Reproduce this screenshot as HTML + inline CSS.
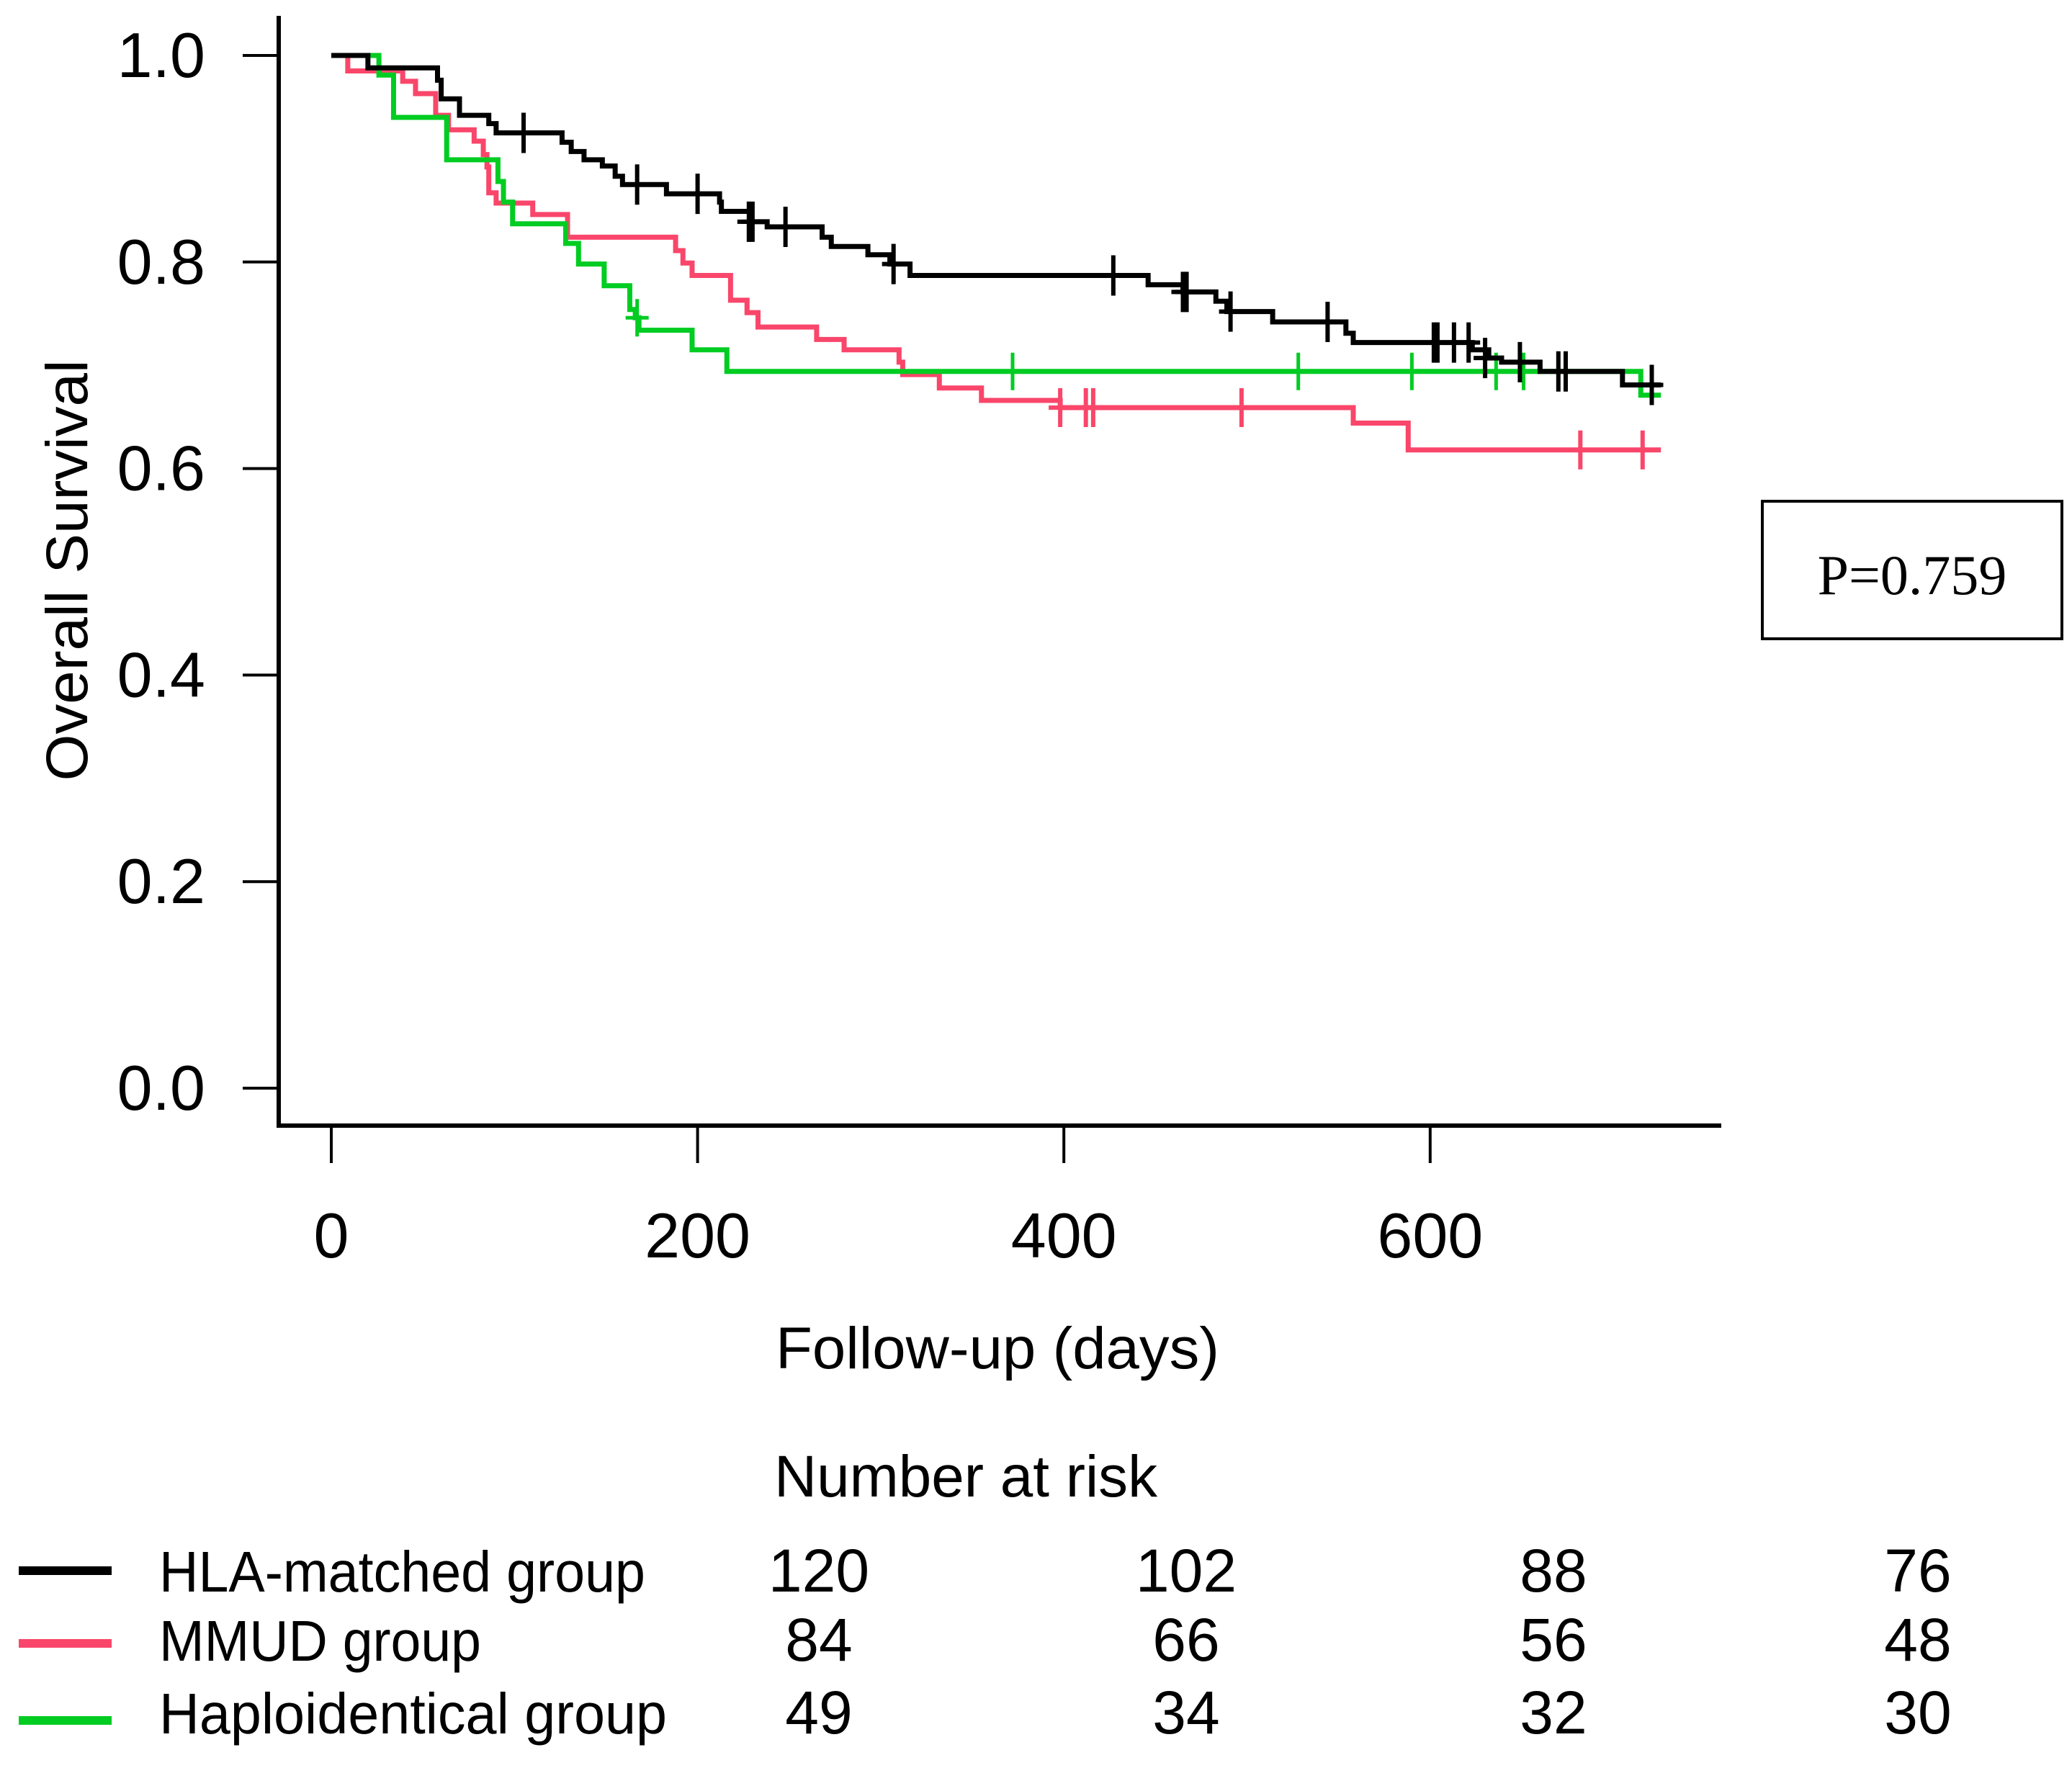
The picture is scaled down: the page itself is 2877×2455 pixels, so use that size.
<!DOCTYPE html>
<html><head><meta charset="utf-8"><style>
html,body{margin:0;padding:0;background:#fff}
svg{display:block}
text{font-family:"Liberation Sans",Arial,sans-serif;fill:#000}
</style></head><body>
<svg id="chart" width="2877" height="2455" viewBox="0 0 2877 2455" xmlns="http://www.w3.org/2000/svg">
<g id="axes"></g>
<g id="curves"></g>
<text transform="translate(121,792) rotate(-90)" text-anchor="middle" font-size="82" textLength="585" lengthAdjust="spacingAndGlyphs">Overall Survival</text>
<text x="1077" y="1900" font-size="82" textLength="616" lengthAdjust="spacingAndGlyphs">Follow-up (days)</text>
<text x="1075" y="2078" font-size="82" textLength="532" lengthAdjust="spacingAndGlyphs">Number at risk</text>
<g>
<rect x="2447" y="696" width="416" height="191" fill="none" stroke="#000" stroke-width="4"/>
<text x="2655" y="825" text-anchor="middle" font-size="78" style="font-family:'Liberation Serif',serif">P=0.759</text>
</g>
<g id="risk"></g>
</svg>
<script>
const NS="http://www.w3.org/2000/svg";
const xTicks=[0,200,400,600];
const yTicks=[0,0.2,0.4,0.6,0.8,1.0];
const yTickLabels=["0.0","0.2","0.4","0.6","0.8","1.0"];
const groupNames=["HLA-matched group","MMUD group","Haploidentical group"];
const groupColors=["#000000","#f9466a","#00cc22"];
const riskTimes=[0,200,400,600];
const riskHLA=[120,102,88,76];
const riskMMUD=[84,66,56,48];
const riskHaplo=[49,34,32,30];
const hlaT=[0,20,58,60,70,86,90,126,131,138,148,155,159,183,212,213,229,238,268,273,293,305,316,446,465,483,489,514,554,558,623,632,639,660,705,726];
const hlaS=[1,0.988,0.976,0.958,0.942,0.934,0.925,0.916,0.907,0.899,0.893,0.883,0.875,0.866,0.858,0.849,0.839,0.834,0.824,0.815,0.807,0.798,0.787,0.778,0.771,0.762,0.752,0.742,0.731,0.722,0.715,0.707,0.703,0.694,0.681,0.681];
const hlaCensT=[105,167,200,228,230,248,307,427,465,467,491,544,602,604,613,621,630,649,670,674,721];
const hlaCensS=[0.925,0.875,0.866,0.839,0.839,0.834,0.798,0.787,0.771,0.771,0.752,0.742,0.722,0.722,0.722,0.722,0.707,0.703,0.694,0.694,0.681];
const mmudT=[0,9,39,46,57,64,78,83,85,86,90,110,129,188,192,197,218,227,233,265,280,310,312,332,355,398,558,588,726];
const mmudS=[1,0.985,0.975,0.963,0.942,0.928,0.917,0.904,0.892,0.867,0.857,0.846,0.824,0.811,0.799,0.787,0.763,0.751,0.737,0.725,0.715,0.703,0.691,0.678,0.666,0.659,0.644,0.618,0.618];
const mmudCensT=[398,412,416,497,682,716];
const mmudCensS=[0.659,0.659,0.659,0.659,0.618,0.618];
const haploT=[0,26,34,63,91,94,99,128,135,149,163,166,168,197,216,715,726];
const haploS=[1,0.981,0.94,0.899,0.878,0.858,0.837,0.818,0.798,0.777,0.754,0.746,0.734,0.715,0.694,0.671,0.671];
const haploCensT=[167,372,528,590,636,651];
const haploCensS=[0.746,0.694,0.694,0.694,0.694,0.694];

const X0=460, XK=2.543, Y0=1511, YK=1434;
function xs(t){return X0+t*XK;}
function ys(s){return Y0-s*YK;}
function mk(tag,attrs,parent){const e=document.createElementNS(NS,tag);for(const k in attrs)e.setAttribute(k,attrs[k]);parent.appendChild(e);return e;}

const axes=document.getElementById('axes');
let yl=mk('line',{x1:387,y1:22,x2:387,y2:1566,stroke:'#000','stroke-width':6},axes);


let xl=mk('line',{x1:384,y1:1563,x2:2390,y2:1563,stroke:'#000','stroke-width':6},axes);


yTicks.forEach((v,i)=>{
  const tk=mk('line',{x1:337,y1:ys(v),x2:387,y2:ys(v),stroke:'#000','stroke-width':4},axes);
  
  
  const tx=mk('text',{x:285,y:ys(v)+30,'text-anchor':'end','font-size':88},axes);
  tx.textContent=yTickLabels[i];
  
  
});
xTicks.forEach(v=>{
  const tk=mk('line',{x1:xs(v),y1:1563,x2:xs(v),y2:1615,stroke:'#000','stroke-width':4},axes);
  
  
  const tx=mk('text',{x:xs(v),y:1746,'text-anchor':'middle','font-size':88},axes);
  tx.textContent=String(v);
  
  
});

const curves=document.getElementById('curves');
function drawCurve(T,S,CT,CS,color,name,tickH,tickW){
  let d='M'+xs(T[0])+' '+ys(S[0]);
  for(let i=1;i<T.length;i++){d+=' H'+xs(T[i])+' V'+ys(S[i]);}
  const p=mk('path',{d:d,fill:'none',stroke:color,'stroke-width':7},curves);
  
  
  for(let i=0;i<CT.length;i++){
    const x=xs(CT[i]),y=ys(CS[i]);
    const c=mk('path',{d:'M'+x+' '+(y-tickH)+' V'+(y+tickH)+' M'+(x-16)+' '+y+' H'+(x+16),stroke:color,'stroke-width':tickW,fill:'none'},curves);
    
    
  }
}
drawCurve(mmudT,mmudS,mmudCensT,mmudCensS,groupColors[1],'mmud',27,6);
drawCurve(haploT,haploS,haploCensT,haploCensS,groupColors[2],'haplo',26,5);
drawCurve(hlaT,hlaS,hlaCensT,hlaCensS,groupColors[0],'hla',28,6);

const risk=document.getElementById('risk');
const rowBase=[2210,2306,2407];
const lineY=[2181,2282,2389];
const nameLen=[675,447,705];
const riskRows=[riskHLA,riskMMUD,riskHaplo];
const colX=[1143,1653,2163,2669];
groupNames.forEach((n,i)=>{
  const ln=mk('line',{x1:26,y1:lineY[i],x2:155,y2:lineY[i],stroke:groupColors[i],'stroke-width':12},risk);
  
  
  const t=mk('text',{x:221,y:rowBase[i],'font-size':80,textLength:nameLen[i],lengthAdjust:'spacingAndGlyphs'},risk);
  t.textContent=n;
  
  
  riskRows[i].forEach((v,j)=>{
    const c=mk('text',{x:colX[j]-6,y:rowBase[i],'text-anchor':'middle','font-size':84},risk);
    c.textContent=String(v);
    
    
  });
});
</script>
</body></html>
